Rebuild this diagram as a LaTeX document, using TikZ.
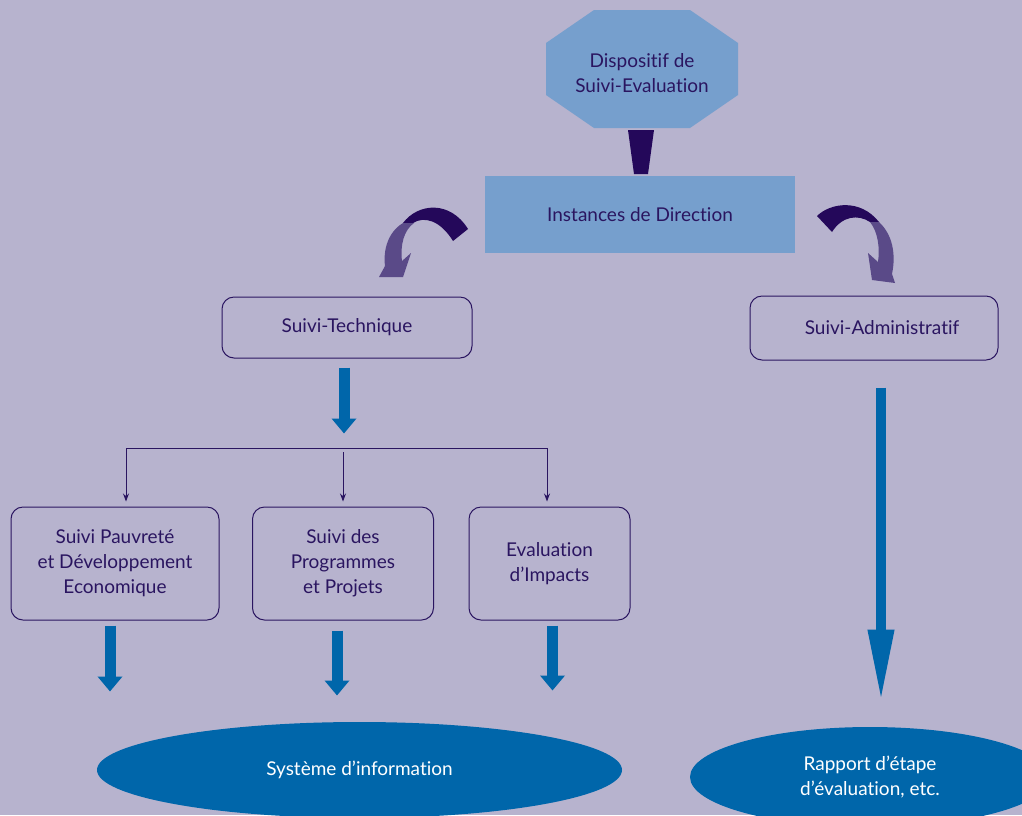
\documentclass[tikz,border=0pt]{standalone}
\usepackage{fontspec}
\setmainfont{Lato}[Ligatures=NoCommon]
\usetikzlibrary{shapes.geometric,arrows.meta,calc}
\definecolor{fond}{HTML}{B7B3CE}
\definecolor{ciel}{HTML}{769FCD}
\definecolor{nuit}{HTML}{24085A}
\definecolor{mauve}{HTML}{5A4A88}
\definecolor{bleu}{HTML}{0066AA}
\definecolor{encre}{HTML}{2A1560}
\tikzstyle{texte}=[align=center, text=encre, inner sep=0pt, font=\fontsize{19}{25}\selectfont]
\tikzstyle{suivi}=[texte, draw=encre, line width=1pt, rounded corners=12pt]
\tikzstyle{bulle}=[texte, ellipse, fill=bleu, text=white]
\tikzstyle{fleche}=[bleu, line width=11pt, -{Triangle[length=15pt,width=24pt]}]
\tikzstyle{fil}=[encre, line width=1pt, -{Stealth[length=8pt,width=6pt]}]
\newcommand{\suivi}{\node[suivi]}

\begin{document}
\begin{tikzpicture}[x=1pt,y=-1pt]
  \fill[fond] (0,0) rectangle (1022,815);
  \clip (0,0) rectangle (1022,815);
  % octogone et direction
  \fill[ciel] (546,43) -- (594,10) -- (690,10) -- (738,43) -- (738,95)
    -- (690,128) -- (594,128) -- (546,95) -- cycle;
  \node[texte] (dispo) at (642,73) {Dispositif de\\Suivi-Evaluation};
  \fill[nuit] (628,130) -- (654,130) -- (648,174) -- (634,174) -- cycle;
  \node[texte, fill=ciel, minimum width=310pt, minimum height=77pt] (direction) at (640,214.5) {Instances de Direction};
  % fleches courbes
  \fill[nuit] (403,223) .. controls (418,203) and (450,200) .. (468,229)
    -- (453,241) .. controls (440,220) and (424,216) .. (413,223) -- cycle;
  \fill[mauve] (403,223) .. controls (388,232) and (383,250) .. (385,266)
    -- (379,277) -- (403,277) -- (411,253) -- (402,261)
    .. controls (400,245) and (404,230) .. (414,223) -- cycle;
  \fill[nuit] (817,216) .. controls (830,203) and (860,198) .. (879,222)
    -- (870,222) .. controls (858,214) and (842,216) .. (832,232) -- cycle;
  \fill[mauve] (879,222) .. controls (893,235) and (896,255) .. (892,274)
    -- (895,283) -- (872,280) -- (868,253) -- (878,262)
    .. controls (880,248) and (878,232) .. (870,222) -- cycle;
  % niveau suivi
  \suivi[minimum width=250pt, minimum height=61pt] (tech) at (347,327.5) {Suivi-Technique};
  \suivi[minimum width=248pt, minimum height=64pt] (admin) at (874,328) {\hspace{16pt}Suivi-Administratif};
  \suivi[minimum width=208pt, minimum height=113pt] (pauv) at (115,563.5) {Suivi Pauvreté\\et Développement\\Economique};
  \suivi[minimum width=181pt, minimum height=113pt] (prog) at (343,563.5) {Suivi des\\Programmes\\et Projets};
  \suivi[minimum width=161pt, minimum height=113pt] (impact) at (549.5,563.5) {Evaluation\\d’Impacts};
  \node[bulle, minimum width=525pt, minimum height=96pt] (sysinfo) at (359.5,770) {Système d’information};
  \node[bulle, minimum width=360pt, minimum height=100pt] (rapport) at (870,777) {Rapport d’étape\\d’évaluation, etc.};
  % embranchement
  \coordinate (busL) at (126,448);
  \coordinate (busM) at (343,452);
  \coordinate (busR) at (547,448);
  \draw[encre, line width=1pt] (busL) -- (busR);
  \draw[fil] (busL) -- ($(busL |- pauv.north)+(0,-5)$);
  \draw[fil] (busM) -- ($(busM |- prog.north)+(0,-5)$);
  \draw[fil] (busR) -- ($(busR |- impact.north)+(0,-5)$);
  % fleches bleues
  \draw[fleche] (tech.south) ++(-3,9) -- ++(0,66);
  \draw[fleche] (pauv.south) ++(-5,5) -- ++(0,66);
  \draw[fleche] (prog.south) ++(-6,10) -- ++(0,65);
  \draw[fleche] (impact.south) ++(3,5) -- ++(0,65);
  \draw[fleche, line width=10pt, -{Triangle[length=73pt,width=24pt]}] (admin.south) ++(7,27) -- ++(0,315);
\end{tikzpicture}
\end{document}
